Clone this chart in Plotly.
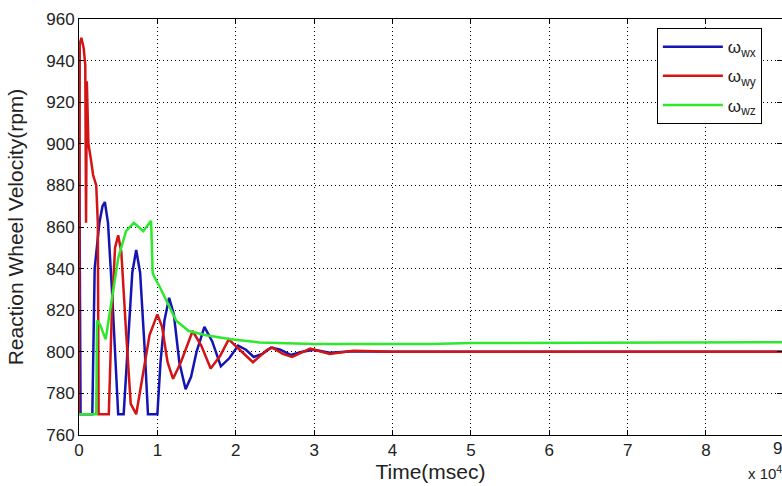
import plotly.graph_objects as go

# time in msec
t_wx = [0, 200, 1700, 2000, 2600, 3000, 3300, 3700, 4200, 4700, 5000, 5700, 6200, 6800, 7300, 7800,
        8400, 8800, 10000, 10400, 10900, 11500, 12100, 12800, 13600, 14300, 15000, 16000, 17000,
        18100, 19200, 20300, 21300, 22300, 23400, 24500, 25700, 27000, 28500, 30000, 32000, 35000,
        40000, 90000]
w_wx = [920, 770, 770, 840, 862, 870, 872, 862, 830, 790, 770, 770, 800, 838, 849, 838,
        800, 770, 770, 795, 815, 826, 818, 795, 782, 788, 800, 812, 805,
        793, 797, 803, 801, 797.5, 799, 802, 801, 798.5, 800, 801, 799.5, 800.3,
        800, 800]

t_wy = [0, 100, 300, 600, 800, 900, 1000, 1200, 1500, 1800, 2200, 2400, 2500, 3800, 4200, 4600,
        5000, 5400, 6000, 6600, 7300, 8000, 9000, 10000, 10600, 11300, 12000, 13000, 14500, 15600,
        16800, 18000, 19100, 20500, 22200, 24000, 24700, 26000, 27200, 29500, 32000, 35000, 40000,
        90000]
w_wy = [770, 948, 951, 946, 938, 862, 930, 900, 893, 885, 880, 862, 770, 770, 820, 850,
        856, 848, 810, 775, 770, 785, 808, 818, 812, 795, 787, 795, 810, 803,
        792, 798, 806, 801, 795, 801, 802, 799, 797.5, 801.5, 799, 800.5, 800,
        800]

t_wz = [0, 2200, 2300, 2700, 3400, 4200, 5000, 6000, 7000, 8200, 9200, 9400, 9600, 10200, 11000,
        12400, 14000, 16200, 19400, 23000, 30000, 45000, 50000, 70000, 90000]
w_wz = [770, 770, 815, 813, 806, 825, 845, 858, 862, 858, 863, 838, 836, 832, 826,
        815, 810, 808, 806, 804.5, 803.8, 803.8, 804.2, 804.4, 804.6]

x_ticks = [0, 10000, 20000, 30000, 40000, 50000, 60000, 70000, 80000]
x_tick_text = ["0", "1", "2", "3", "4", "5", "6", "7", "8"]
x_max = 89700
y_ticks = [760, 780, 800, 820, 840, 860, 880, 900, 920, 940, 960]

series = [
    ("ω<sub>wx</sub>", t_wx, w_wx, "#1414B4"),
    ("ω<sub>wy</sub>", t_wy, w_wy, "#D41414"),
    ("ω<sub>wz</sub>", t_wz, w_wz, "#2EE82E"),
]

fig = go.Figure()
for i, (name, t, w, c) in enumerate(series):
    fig.add_trace(go.Scatter(x=t, y=w, mode="lines", name=name, legendgroup=str(i),
                             line=dict(color=c, width=2.5)))

font = "Liberation Sans, Arial, sans-serif"
axis_common = dict(showline=True, linecolor="black", linewidth=1, mirror="ticks",
                   ticks="inside", ticklen=5, tickcolor="black",
                   showgrid=True, gridcolor="black", griddash="1px,3px", gridwidth=1,
                   zeroline=False, automargin=False,
                   tickfont=dict(family=font, size=17, color="#222"))

fig.update_layout(
    width=782, height=486,
    margin=dict(l=79, r=0, t=19, b=51, autoexpand=False),
    paper_bgcolor="white", plot_bgcolor="white",
    showlegend=True,
    legend=dict(x=0.822, y=0.978, xanchor="left", yanchor="top",
                bordercolor="black", borderwidth=1, bgcolor="white",
                font=dict(family=font, size=17, color="#222"),
                entrywidth=70, itemwidth=60,
                traceorder="grouped", tracegroupgap=4),
    xaxis=dict(range=[0, x_max], tickvals=x_ticks, ticktext=x_tick_text,
               title=dict(text="Time(msec)", font=dict(family=font, size=21, color="#222"),
                          standoff=0),
               **axis_common),
    yaxis=dict(range=[760, 960], tickvals=y_ticks,
               title=dict(text="Reaction Wheel Velocity(rpm)",
                          font=dict(family=font, size=21, color="#222"), standoff=16),
               **axis_common),
)

fig.add_annotation(x=90000 / x_max, y=0, xref="paper", yref="paper", text="9", showarrow=False,
                   yanchor="top", yshift=-2, font=dict(family=font, size=17, color="#222"))
fig.add_annotation(x=1.0, y=0, xref="paper", yref="paper", text="x 10<sup>4</sup>",
                   showarrow=False, xanchor="right", yanchor="top", yshift=-26, xshift=2,
                   font=dict(family=font, size=15, color="#222"))

fig.write_html("out.html", config={"displayModeBar": False},
               post_script="document.body.style.margin='0';")
